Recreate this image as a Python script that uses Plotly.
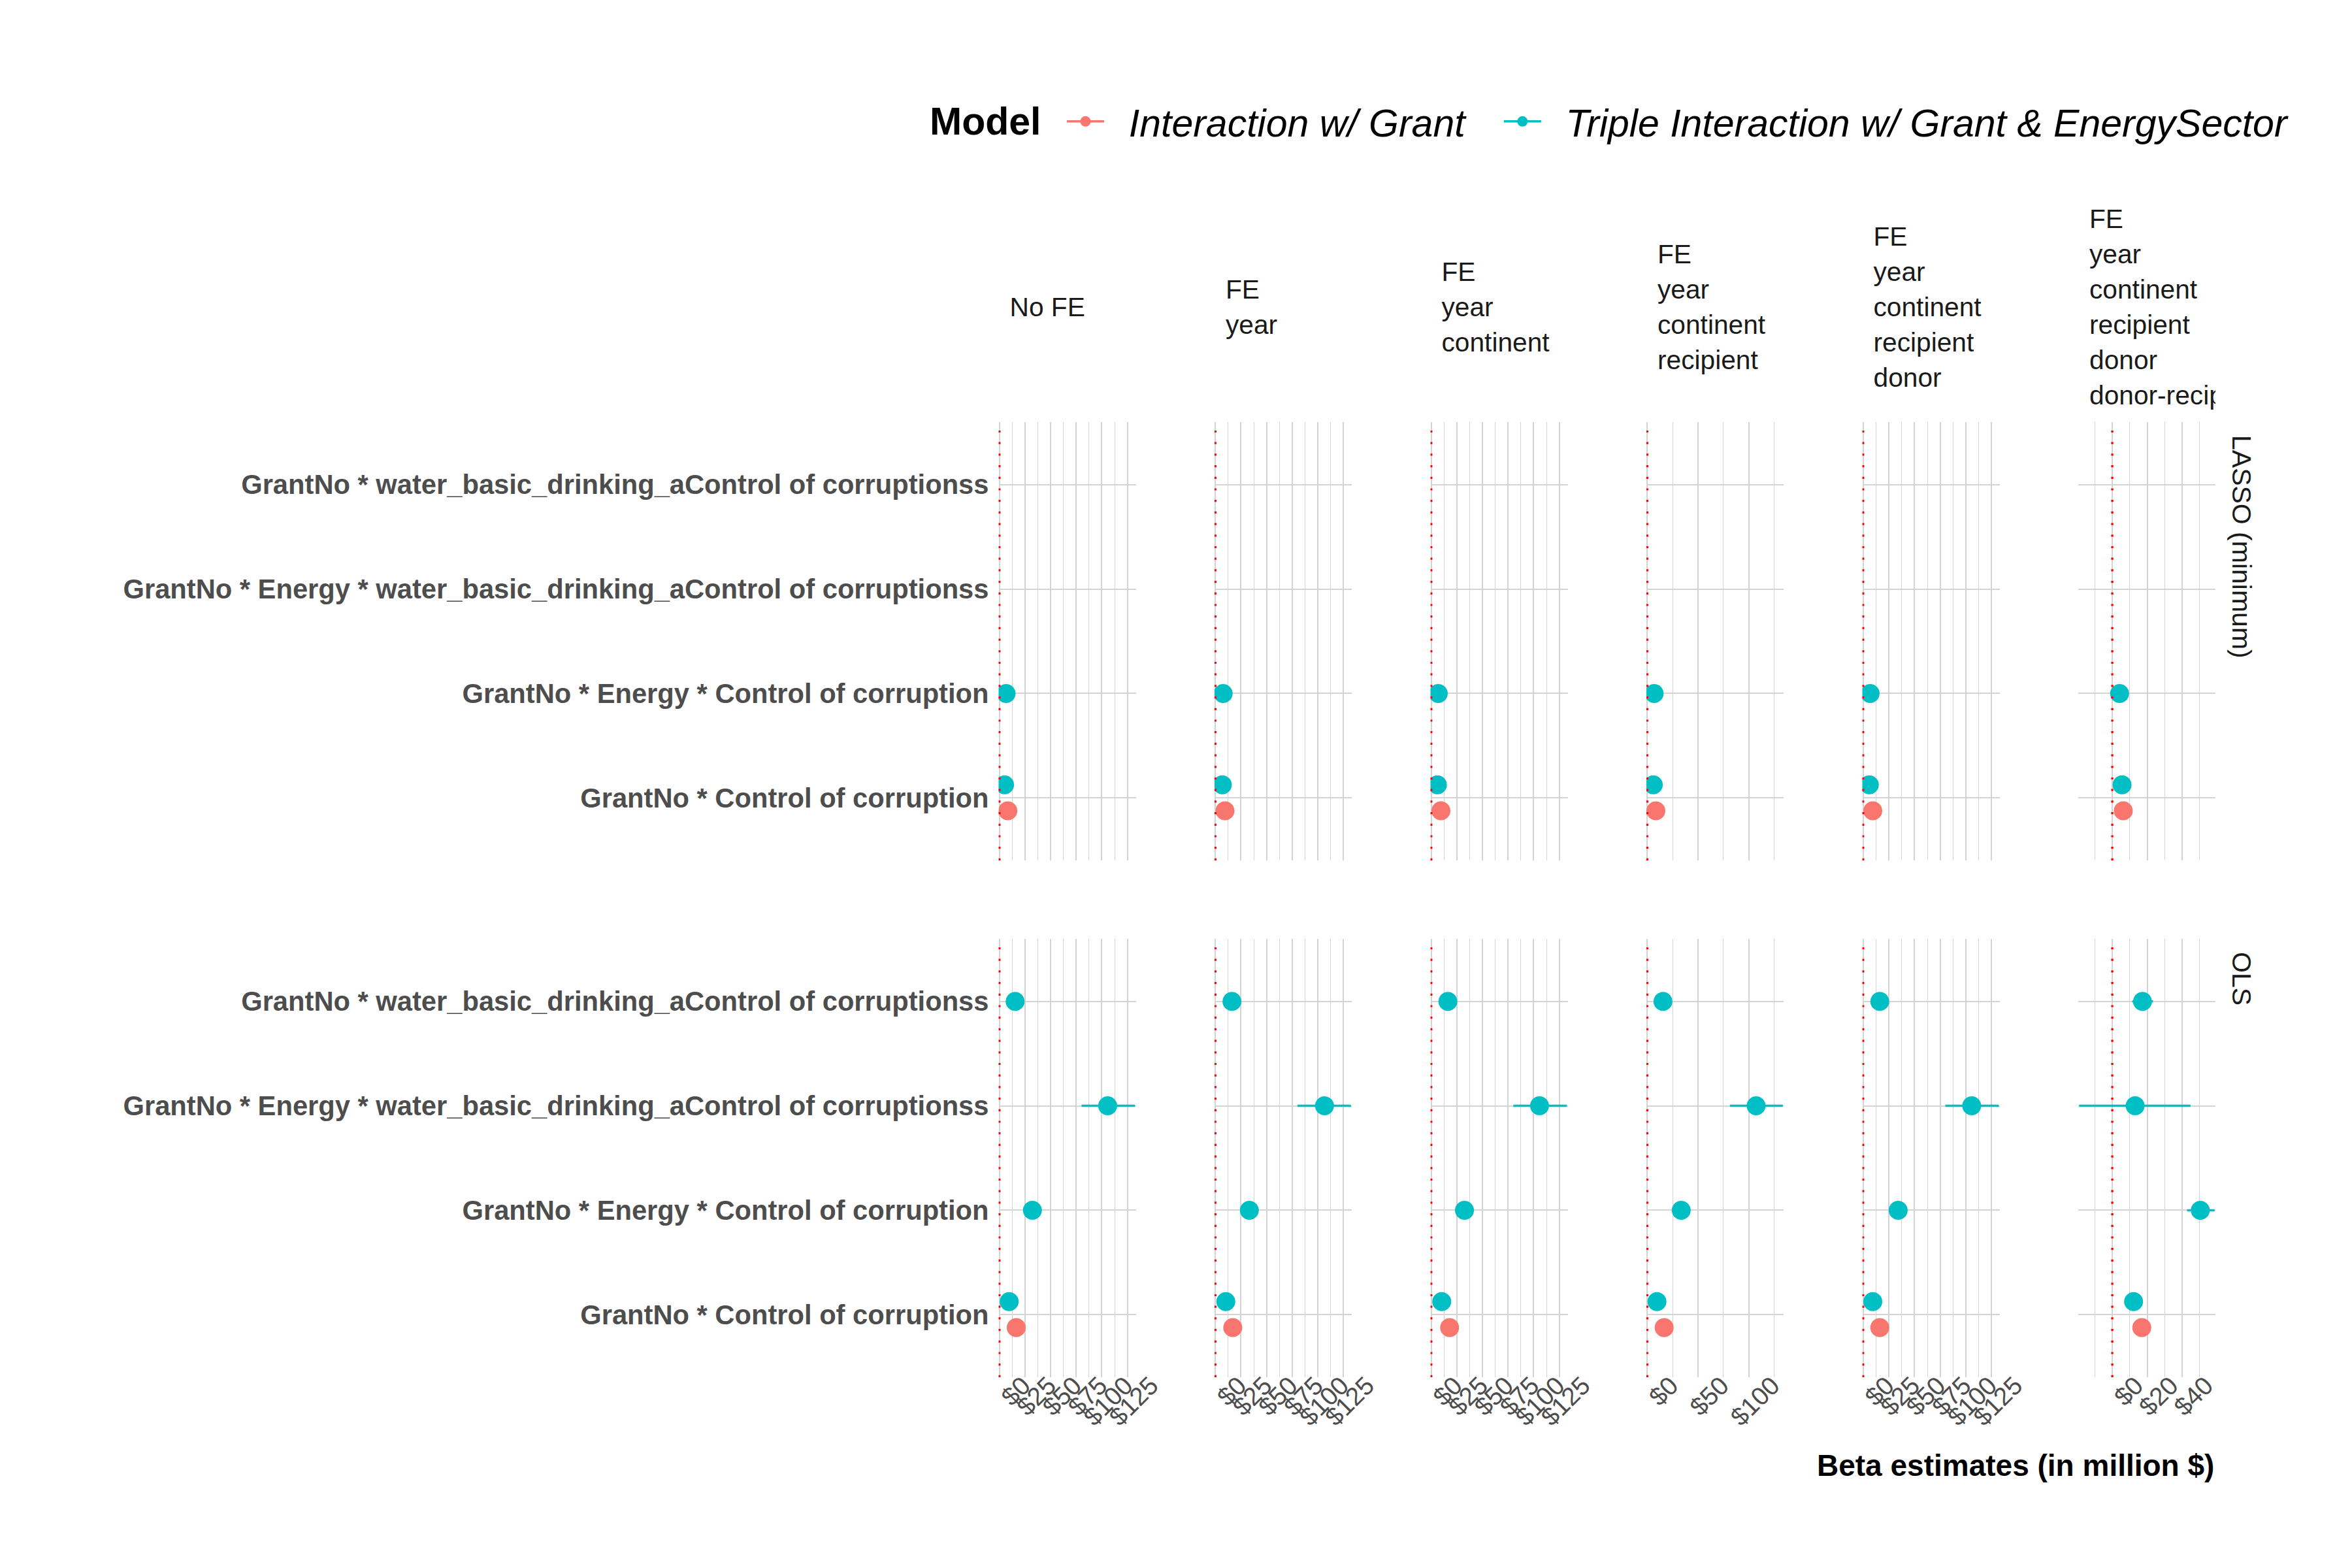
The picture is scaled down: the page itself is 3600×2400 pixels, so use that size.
import plotly.graph_objects as go

# ---------------- data ----------------
FE_SPECS = [
    ["No FE"],
    ["FE", "year"],
    ["FE", "year", "continent"],
    ["FE", "year", "continent", "recipient"],
    ["FE", "year", "continent", "recipient", "donor"],
    ["FE", "year", "continent", "recipient", "donor", "donor-recipient"],
]
METHODS = ["LASSO (minimum)", "OLS"]
TERMS = [
    "GrantNo * water_basic_drinking_aControl of corruptionss",
    "GrantNo * Energy * water_basic_drinking_aControl of corruptionss",
    "GrantNo * Energy * Control of corruption",
    "GrantNo * Control of corruption",
]
MODELS = ["Interaction w/ Grant", "Triple Interaction w/ Grant & EnergySector"]
MODEL_COLORS = ["#F8766D", "#00BFC4"]

# x-axis breaks per FE column
X_BREAKS = [
    [0, 25, 50, 75, 100, 125],
    [0, 25, 50, 75, 100, 125],
    [0, 25, 50, 75, 100, 125],
    [0, 50, 100],
    [0, 25, 50, 75, 100, 125],
    [0, 20, 40],
]
X_MINOR = [12.5, 12.5, 12.5, 25, 12.5, 10]

# LASSO (minimum) estimates (no intervals)
lasso_inter_corr = [8.2, 9.4, 9.4, 8.5, 9.4, 6.3]
lasso_triple_energy_corr = [6.5, 7.6, 6.8, 6.8, 6.8, 4.2]
lasso_triple_corr = [5.0, 6.8, 6.0, 6.0, 6.0, 5.6]

# OLS estimates with confidence bounds
ols_inter_corr = [16.4, 17.0, 17.9, 16.7, 16.2, 16.9]
ols_inter_corr_lo = [14.9, 15.5, 16.4, 15.2, 14.7, 15.0]
ols_inter_corr_hi = [17.9, 18.5, 19.4, 18.2, 17.7, 18.8]

ols_triple_water = [15.3, 16.2, 16.2, 15.5, 16.2, 17.3]
ols_triple_water_lo = [13.3, 14.2, 14.2, 13.5, 14.2, 11.5]
ols_triple_water_hi = [17.3, 18.2, 18.2, 17.5, 18.2, 23.3]

ols_triple_energy_water = [105.7, 106.6, 105.7, 107.3, 105.7, 13.1]
ols_triple_energy_water_lo = [80.2, 80.1, 80.1, 81.5, 80.1, -19.0]
ols_triple_energy_water_hi = [132.4, 132.4, 132.4, 133.6, 132.0, 44.8]

ols_triple_energy_corr = [32.2, 33.2, 32.4, 33.5, 34.1, 50.4]
ols_triple_energy_corr_lo = [29.5, 30.5, 29.7, 30.8, 31.4, 42.8]
ols_triple_energy_corr_hi = [34.9, 35.9, 35.1, 36.2, 36.8, 58.6]

ols_triple_corr = [9.5, 10.2, 10.2, 9.6, 9.4, 12.2]
ols_triple_corr_lo = [8.0, 8.7, 8.7, 8.1, 7.9, 10.4]
ols_triple_corr_hi = [11.0, 11.7, 11.7, 11.1, 10.9, 14.0]

SERIES = [
    # (method, model, term, est, lo, hi)
    (0, 0, 3, lasso_inter_corr, None, None),
    (0, 1, 2, lasso_triple_energy_corr, None, None),
    (0, 1, 3, lasso_triple_corr, None, None),
    (1, 0, 3, ols_inter_corr, ols_inter_corr_lo, ols_inter_corr_hi),
    (1, 1, 0, ols_triple_water, ols_triple_water_lo, ols_triple_water_hi),
    (1, 1, 1, ols_triple_energy_water, ols_triple_energy_water_lo, ols_triple_energy_water_hi),
    (1, 1, 2, ols_triple_energy_corr, ols_triple_energy_corr_lo, ols_triple_energy_corr_hi),
    (1, 1, 3, ols_triple_corr, ols_triple_corr_lo, ols_triple_corr_hi),
]

# ---------------- layout constants ----------------
W, H = 3600, 2400
P_LEFT0, P_STEP, P_W = 1528.5, 330.5, 210.0
ROW_TOP, ROW_H = [646.0, 1437.0], 671.0
FONT = "Liberation Sans, Arial, Helvetica, sans-serif"
GRID = "#d4d4d4"
TXT = "#4D4D4D"
DODGE = 0.25
NCOL = len(FE_SPECS)
NB = "\u00a0"


def aid(k):
    return "" if k == 1 else str(k)


def xdom(c):
    left = P_LEFT0 + c * P_STEP
    return [left / W, (left + P_W) / W]


def ydom(r):
    return [1 - (ROW_TOP[r] + ROW_H) / H, 1 - ROW_TOP[r] / H]


# x range per column (shared by rows), zero always included (reference line)
x_ranges = []
for c in range(NCOL):
    lows, highs = [0.0], [0.0]
    for (m, mo, t, est, lo, hi) in SERIES:
        lows.append(est[c] if lo is None else lo[c])
        highs.append(est[c] if hi is None else hi[c])
    a, b = min(lows), max(highs)
    pad = 0.006 * (b - a)
    x_ranges.append([a - pad, b + pad])

# dodge positions
present = {}
for (m, mo, t, est, lo, hi) in SERIES:
    present.setdefault((m, t), []).append(mo)


def ypos(m, mo, t):
    base = len(TERMS) - t
    mods = sorted(present[(m, t)])
    n = len(mods)
    j = mods.index(mo)
    return base + (j - (n - 1) / 2) * DODGE


fig = go.Figure()
layout = {}
shapes = []

for r in range(len(METHODS)):
    for c in range(NCOL):
        k = r * NCOL + c + 1
        xa, ya = "x" + aid(k), "y" + aid(k)
        layout["xaxis" + aid(k)] = dict(
            domain=xdom(c), anchor=ya, range=x_ranges[c], automargin=False,
            tickmode="array", tickvals=X_BREAKS[c],
            ticktext=[f"${v}" for v in X_BREAKS[c]],
            showticklabels=(r == len(METHODS) - 1), tickangle=-45,
            ticklabelshift=36, ticklabelstandoff=-19,
            tickfont=dict(family=FONT, size=39, color=TXT),
            showgrid=True, gridcolor=GRID, gridwidth=2,
            minor=dict(dtick=X_MINOR[c], tick0=0, showgrid=True,
                       gridcolor=GRID, gridwidth=1.2),
            zeroline=False, showline=False, ticks="", fixedrange=True,
        )
        layout["yaxis" + aid(k)] = dict(
            domain=ydom(r), anchor=xa, range=[0.4, len(TERMS) + 0.6],
            automargin=False,
            tickmode="array", tickvals=[len(TERMS) - i for i in range(len(TERMS))],
            ticktext=TERMS, showticklabels=(c == 0),
            tickfont=dict(family=FONT, size=41.7, color=TXT, weight="bold"),
            ticklabelstandoff=14,
            showgrid=True, gridcolor=GRID, gridwidth=2.2,
            zeroline=False, showline=False, ticks="", fixedrange=True,
        )
        shapes.append(dict(
            type="line", xref=xa, yref=f"{ya} domain", x0=0, x1=0, y0=0, y1=1,
            line=dict(color="#FF0000", width=3.4, dash="3.2px,14.5px"), layer="above",
        ))
        for mo in range(len(MODELS)):
            xs, ys, ep, em = [], [], [], []
            has_ci = False
            for (m, smo, t, est, lo, hi) in SERIES:
                if m != r or smo != mo:
                    continue
                xs.append(est[c])
                ys.append(ypos(m, mo, t))
                if lo is not None:
                    has_ci = True
                    ep.append(hi[c] - est[c])
                    em.append(est[c] - lo[c])
                else:
                    ep.append(0)
                    em.append(0)
            if not xs:
                continue
            tr = dict(
                x=xs, y=ys, xaxis=xa, yaxis=ya, mode="markers",
                marker=dict(color=MODEL_COLORS[mo], size=29, line=dict(width=0)),
                showlegend=False, hoverinfo="skip",
            )
            if has_ci:
                tr["error_x"] = dict(type="data", symmetric=False, array=ep,
                                     arrayminus=em, thickness=3.5, width=0,
                                     color=MODEL_COLORS[mo])
            fig.add_trace(go.Scatter(**tr))

# legend entries
for mo, name in enumerate(MODELS):
    label = NB * 2 + name + (NB * 3 if mo < len(MODELS) - 1 else "")
    fig.add_trace(go.Scatter(
        x=[None], y=[None], xaxis="x", yaxis="y", mode="lines+markers",
        name=label, marker=dict(color=MODEL_COLORS[mo], size=29),
        line=dict(color=MODEL_COLORS[mo], width=3.5),
    ))

# column strips (clipped at the right edge of the last panel, like ggplot)
strip_right = P_LEFT0 + (NCOL - 1) * P_STEP + P_W
sk = str(2 * NCOL + 1)
layout["xaxis" + sk] = dict(domain=[0, strip_right / W], range=[0, strip_right],
                            visible=False, fixedrange=True, anchor="y" + sk,
                            automargin=False)
layout["yaxis" + sk] = dict(domain=[1 - 640 / H, 1 - 270 / H], range=[640, 270],
                            visible=False, fixedrange=True, anchor="x" + sk,
                            automargin=False)
sx, sy, st = [], [], []
for c, lines in enumerate(FE_SPECS):
    n = len(lines)
    for i, line in enumerate(lines):
        sx.append(P_LEFT0 + c * P_STEP + 17)
        sy.append(474 + (i - (n - 1) / 2) * 54)
        st.append(line)
fig.add_trace(go.Scatter(
    x=sx, y=sy, text=st, mode="text", textposition="middle right",
    textfont=dict(family=FONT, size=40.7, color="#1A1A1A"),
    xaxis="x" + sk, yaxis="y" + sk, cliponaxis=True, showlegend=False,
    hoverinfo="skip",
))

annotations = []
for r, name in enumerate(METHODS):
    annotations.append(dict(
        text=name, xref="paper", yref="paper", x=3431 / W,
        y=1 - (ROW_TOP[r] + 18) / H, xanchor="center", yanchor="top",
        textangle=90, showarrow=False,
        font=dict(family=FONT, size=41, color="#1A1A1A"),
    ))
annotations.append(dict(
    text="<b>Beta estimates (in million $)</b>", xref="paper", yref="paper",
    x=strip_right / W, y=1 - 2243 / H, xanchor="right", yanchor="middle",
    showarrow=False, font=dict(family=FONT, size=46, color="black"),
))
# legend title
annotations.append(dict(
    text="<b>Model</b>", xref="paper", yref="paper", x=1421 / W,
    y=1 - 186 / H, xanchor="left", yanchor="middle", showarrow=False,
    font=dict(family=FONT, size=59, color="black"),
))

fig.update_layout(
    width=W, height=H,
    margin=dict(l=0, r=0, t=0, b=0, autoexpand=False),
    paper_bgcolor="white", plot_bgcolor="white",
    shapes=shapes, annotations=annotations,
    legend=dict(
        orientation="h", x=3508 / W, xanchor="right", y=1 - 186 / H,
        yanchor="middle", bgcolor="rgba(0,0,0,0)",
        font=dict(family=FONT, size=59, color="black", style="italic"),
        itemwidth=57,
    ),
    **layout,
)

fig.write_html("out.html")
